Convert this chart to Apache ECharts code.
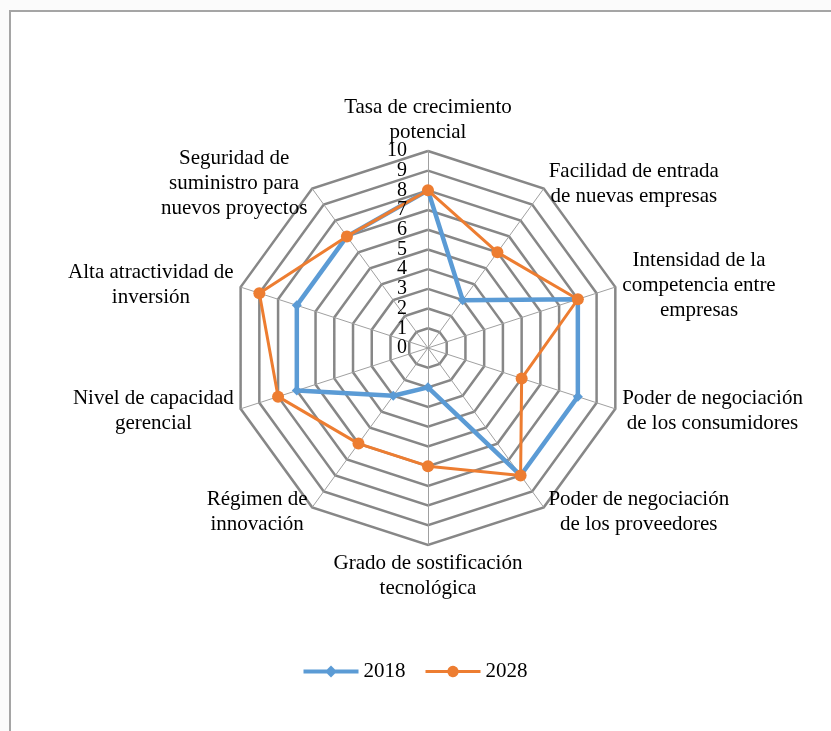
<!DOCTYPE html>
<html>
<head>
<meta charset="utf-8">
<script src="https://cdn.jsdelivr.net/npm/echarts@6/dist/echarts.min.js"></script>
<style>
  html, body { margin: 0; padding: 0; background: #fbfbfb; }
  #chart { width: 831px; height: 731px; }
</style>
</head>
<body>
<div id="chart"></div>
<script>
// indicadores en el orden de las agujas del reloj, empezando arriba
const indicators = [
  'Tasa de crecimiento\npotencial',
  'Facilidad de entrada\nde nuevas empresas',
  'Intensidad de la\ncompetencia entre\nempresas',
  'Poder de negociación\nde los consumidores',
  'Poder de negociación\nde los proveedores',
  'Grado de sostificación\ntecnológica',
  'Régimen de\ninnovación',
  'Nivel de capacidad\ngerencial',
  'Alta atractividad de\ninversión',
  'Seguridad de\nsuministro para\nnuevos proyectos'
]
const values2018 = [8, 3, 8, 8, 8, 2, 3, 7, 7, 7]
const values2028 = [8, 6, 8, 5, 8, 6, 6, 8, 9, 7]
const seriesNames = ['2018', '2028']
const colors = ['#5B9BD5', '#ED7D31']
const maxValue = 10

// ECharts pone los indicadores en sentido antihorario: se invierte el orden
const order = [0].concat(indicators.map((_, i) => i).slice(1).reverse())
const pick = arr => order.map(i => arr[i])

const font = '"Liberation Serif", "Times New Roman", serif'
const nameSize = 21
const center = ['51.5%', '47.6%']
const radius = 197

// cada nombre centrado en su propio bloque (como en Excel)
const ctx = document.createElement('canvas').getContext('2d')
ctx.font = nameSize + 'px ' + font
const rich = {}
indicators.forEach((name, i) => {
  const w = Math.max(...name.split('\n').map(s => ctx.measureText(s).width))
  rich['n' + i] = {
    width: Math.ceil(w) + 2,
    align: 'center',
    color: '#000',
    fontFamily: font,
    fontSize: nameSize,
    lineHeight: 25
  }
})

// iconos de leyenda: línea con marcador
const legendIcons = [
  'path://M0,4 H23.5 L27.5,0 L31.5,4 H55 V8 H31.5 L27.5,12 L23.5,8 H0 Z',
  'path://M0,4.5 H22 A5.7,5.7 0 0 1 33,4.5 H55 V7.5 H33 A5.7,5.7 0 0 1 22,7.5 H0 Z'
]

// etiquetas 0..10: pares en un eje y los impares en otro, para que no se oculten
const tickAxis = (polarIndex, even) => ({
  polarIndex: polarIndex,
  min: 0,
  max: maxValue,
  interval: 1,
  axisLine: { show: false },
  axisTick: { show: false },
  splitLine: { show: false },
  axisLabel: {
    interval: 0,
    formatter: v => ((v % 2 === 0) === even ? String(v) : ''),
    color: '#000',
    fontFamily: font,
    fontSize: 20,
    margin: 21,
    showMinLabel: even,
    showMaxLabel: even
  },
  z: 10
})

const myChart = echarts.init(document.getElementById('chart'))
const option = {
  backgroundColor: 'transparent',
  animation: false,
  graphic: [
    {
      type: 'rect',
      z: -10,
      shape: { x: 10, y: 11, width: 900, height: 800 },
      style: { fill: '#fff', stroke: '#a5a5a5', lineWidth: 2 }
    }
  ],
  legend: {
    top: 656,
    left: 'center',
    itemWidth: 55,
    itemHeight: 12,
    itemGap: 20,
    textStyle: { color: '#000', fontFamily: font, fontSize: nameSize },
    data: seriesNames.map((name, i) => ({
      name: name,
      icon: legendIcons[i],
      itemStyle: { color: colors[i] }
    }))
  },
  polar: [
    { center: center, radius: radius },
    { center: center, radius: radius }
  ],
  angleAxis: [
    { polarIndex: 0, show: false, startAngle: 90, min: 0, max: 360 },
    { polarIndex: 1, show: false, startAngle: 90, min: 0, max: 360 }
  ],
  radiusAxis: [tickAxis(0, true), tickAxis(1, false)],
  radar: {
    center: center,
    radius: radius,
    startAngle: 90,
    splitNumber: 10,
    nameGap: 6,
    axisName: {
      formatter: name => {
        const key = 'n' + indicators.indexOf(name)
        return name.split('\n').map(s => '{' + key + '|' + s + '}').join('\n')
      },
      rich: rich
    },
    splitLine: { lineStyle: { color: '#878787', width: 2.5 } },
    splitArea: { show: false },
    axisLine: { lineStyle: { color: '#a0a0a0', width: 1 } },
    indicator: pick(indicators).map(name => ({ name: name, max: maxValue, min: 0 }))
  },
  series: [
    {
      type: 'radar',
      z: 3,
      data: [
        {
          name: seriesNames[0],
          value: pick(values2018),
          symbol: 'diamond',
          symbolSize: 10,
          lineStyle: { color: colors[0], width: 4.5 },
          itemStyle: { color: colors[0] }
        }
      ]
    },
    {
      type: 'radar',
      z: 4,
      data: [
        {
          name: seriesNames[1],
          value: pick(values2028),
          symbol: 'circle',
          symbolSize: 12,
          lineStyle: { color: colors[1], width: 3 },
          itemStyle: { color: colors[1] }
        }
      ]
    }
  ]
}
myChart.setOption(option)
</script>
</body>
</html>
